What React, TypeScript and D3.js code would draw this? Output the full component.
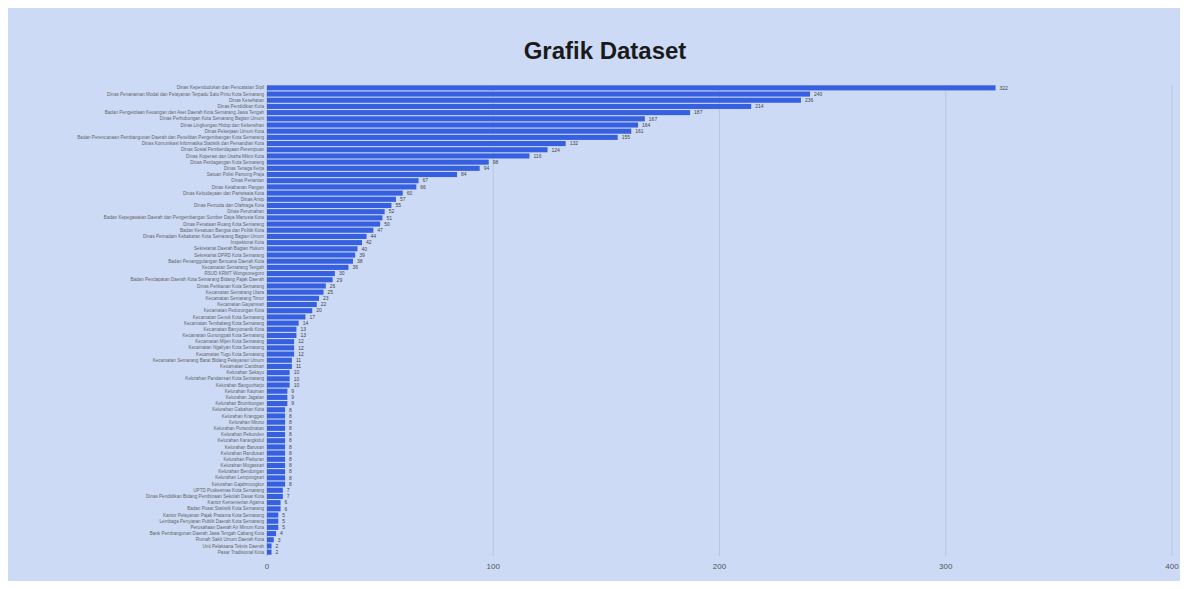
import React from "react";
import * as d3 from "d3";

const categories: string[] = [
  "Dinas Kependudukan dan Pencatatan Sipil",
  "Dinas Penanaman Modal dan Pelayanan Terpadu Satu Pintu Kota Semarang",
  "Dinas Kesehatan",
  "Dinas Pendidikan Kota",
  "Badan Pengelolaan Keuangan dan Aset Daerah Kota Semarang Jawa Tengah",
  "Dinas Perhubungan Kota Semarang Bagian Umum",
  "Dinas Lingkungan Hidup dan Kebersihan",
  "Dinas Pekerjaan Umum Kota",
  "Badan Perencanaan Pembangunan Daerah dan Penelitian Pengembangan Kota Semarang",
  "Dinas Komunikasi Informatika Statistik dan Persandian Kota",
  "Dinas Sosial Pemberdayaan Perempuan",
  "Dinas Koperasi dan Usaha Mikro Kota",
  "Dinas Perdagangan Kota Semarang",
  "Dinas Tenaga Kerja",
  "Satuan Polisi Pamong Praja",
  "Dinas Pertanian",
  "Dinas Ketahanan Pangan",
  "Dinas Kebudayaan dan Pariwisata Kota",
  "Dinas Arsip",
  "Dinas Pemuda dan Olahraga Kota",
  "Dinas Perumahan",
  "Badan Kepegawaian Daerah dan Pengembangan Sumber Daya Manusia Kota",
  "Dinas Penataan Ruang Kota Semarang",
  "Badan Kesatuan Bangsa dan Politik Kota",
  "Dinas Pemadam Kebakaran Kota Semarang Bagian Umum",
  "Inspektorat Kota",
  "Sekretariat Daerah Bagian Hukum",
  "Sekretariat DPRD Kota Semarang",
  "Badan Penanggulangan Bencana Daerah Kota",
  "Kecamatan Semarang Tengah",
  "RSUD KRMT Wongsonegoro",
  "Badan Pendapatan Daerah Kota Semarang Bidang Pajak Daerah",
  "Dinas Perikanan Kota Semarang",
  "Kecamatan Semarang Utara",
  "Kecamatan Semarang Timur",
  "Kecamatan Gayamsari",
  "Kecamatan Pedurungan Kota",
  "Kecamatan Genuk Kota Semarang",
  "Kecamatan Tembalang Kota Semarang",
  "Kecamatan Banyumanik Kota",
  "Kecamatan Gunungpati Kota Semarang",
  "Kecamatan Mijen Kota Semarang",
  "Kecamatan Ngaliyan Kota Semarang",
  "Kecamatan Tugu Kota Semarang",
  "Kecamatan Semarang Barat Bidang Pelayanan Umum",
  "Kecamatan Candisari",
  "Kelurahan Sekayu",
  "Kelurahan Pandansari Kota Semarang",
  "Kelurahan Bangunharjo",
  "Kelurahan Kauman",
  "Kelurahan Jagalan",
  "Kelurahan Brumbungan",
  "Kelurahan Gabahan Kota",
  "Kelurahan Kranggan",
  "Kelurahan Miroto",
  "Kelurahan Purwodinatan",
  "Kelurahan Pekunden",
  "Kelurahan Karangkidul",
  "Kelurahan Barusari",
  "Kelurahan Randusari",
  "Kelurahan Pleburan",
  "Kelurahan Mugassari",
  "Kelurahan Bendungan",
  "Kelurahan Lempongsari",
  "Kelurahan Gajahmungkur",
  "UPTD Puskesmas Kota Semarang",
  "Dinas Pendidikan Bidang Pembinaan Sekolah Dasar Kota",
  "Kantor Kementerian Agama",
  "Badan Pusat Statistik Kota Semarang",
  "Kantor Pelayanan Pajak Pratama Kota Semarang",
  "Lembaga Penyiaran Publik Daerah Kota Semarang",
  "Perusahaan Daerah Air Minum Kota",
  "Bank Pembangunan Daerah Jawa Tengah Cabang Kota",
  "Rumah Sakit Umum Daerah Kota",
  "Unit Pelaksana Teknis Daerah",
  "Pasar Tradisional Kota",
];

const values: number[] = [
  322, 240, 236, 214, 187, 167, 164, 161, 155, 132,
  124, 116, 98, 94, 84, 67, 66, 60, 57, 55,
  52, 51, 50, 47, 44, 42, 40, 39, 38, 36,
  30, 29, 26, 25, 23, 22, 20, 17, 14, 13,
  13, 12, 12, 12, 11, 11, 10, 10, 10, 9,
  9, 9, 8, 8, 8, 8, 8, 8, 8, 8,
  8, 8, 8, 8, 8, 7, 7, 6, 6, 5,
  5, 5, 4, 3, 2, 2,
];

const xTicks: number[] = [0, 100, 200, 300, 400];
const title = "Grafik Dataset";

const W = 1172;
const H = 573;
const M = { left: 259, right: 8, top: 77, bottom: 26 };

export default function App() {
  const x = d3.scaleLinear().domain([0, 400]).range([M.left, W - M.right]);
  const y = d3
    .scaleBand<number>()
    .domain(d3.range(values.length))
    .range([M.top, H - M.bottom])
    .paddingInner(0.18)
    .paddingOuter(0.05);
  const font = "Liberation Sans, Arial, sans-serif";
  return (
    <svg width={W} height={H} style={{ display: "block" }} fontFamily={font}>
      <rect x={0} y={0} width={W} height={H} fill="#ccdaf6" />
      <text x={597} y={51} textAnchor="middle" fontSize={24} fontWeight="bold" fill="#1a1a1a">
        {title}
      </text>
      {xTicks.map((t) => (
        <g key={t}>
          <line
            x1={x(t)}
            x2={x(t)}
            y1={M.top}
            y2={H - M.bottom + 1}
            stroke={t === 0 ? "#a9b3c8" : "#bcc6d9"}
            strokeWidth={1}
          />
          <text x={x(t)} y={H - 12} textAnchor="middle" fontSize={8} fill="#555">
            {t}
          </text>
        </g>
      ))}
      {values.map((v, i) => (
        <g key={i}>
          <rect
            x={x(0)}
            y={y(i)}
            width={Math.max(0, x(v) - x(0))}
            height={y.bandwidth()}
            fill="#3760e0"
          />
          <text
            x={x(0) - 3}
            y={(y(i) as number) + y.bandwidth() / 2}
            dy="0.35em"
            textAnchor="end"
            fontSize={4.6}
            fill="#666"
          >
            {categories[i]}
          </text>
          <text
            x={x(v) + 4}
            y={(y(i) as number) + y.bandwidth() / 2}
            dy="0.35em"
            fontSize={5}
            fill="#444"
          >
            {v}
          </text>
        </g>
      ))}
    </svg>
  );
}
